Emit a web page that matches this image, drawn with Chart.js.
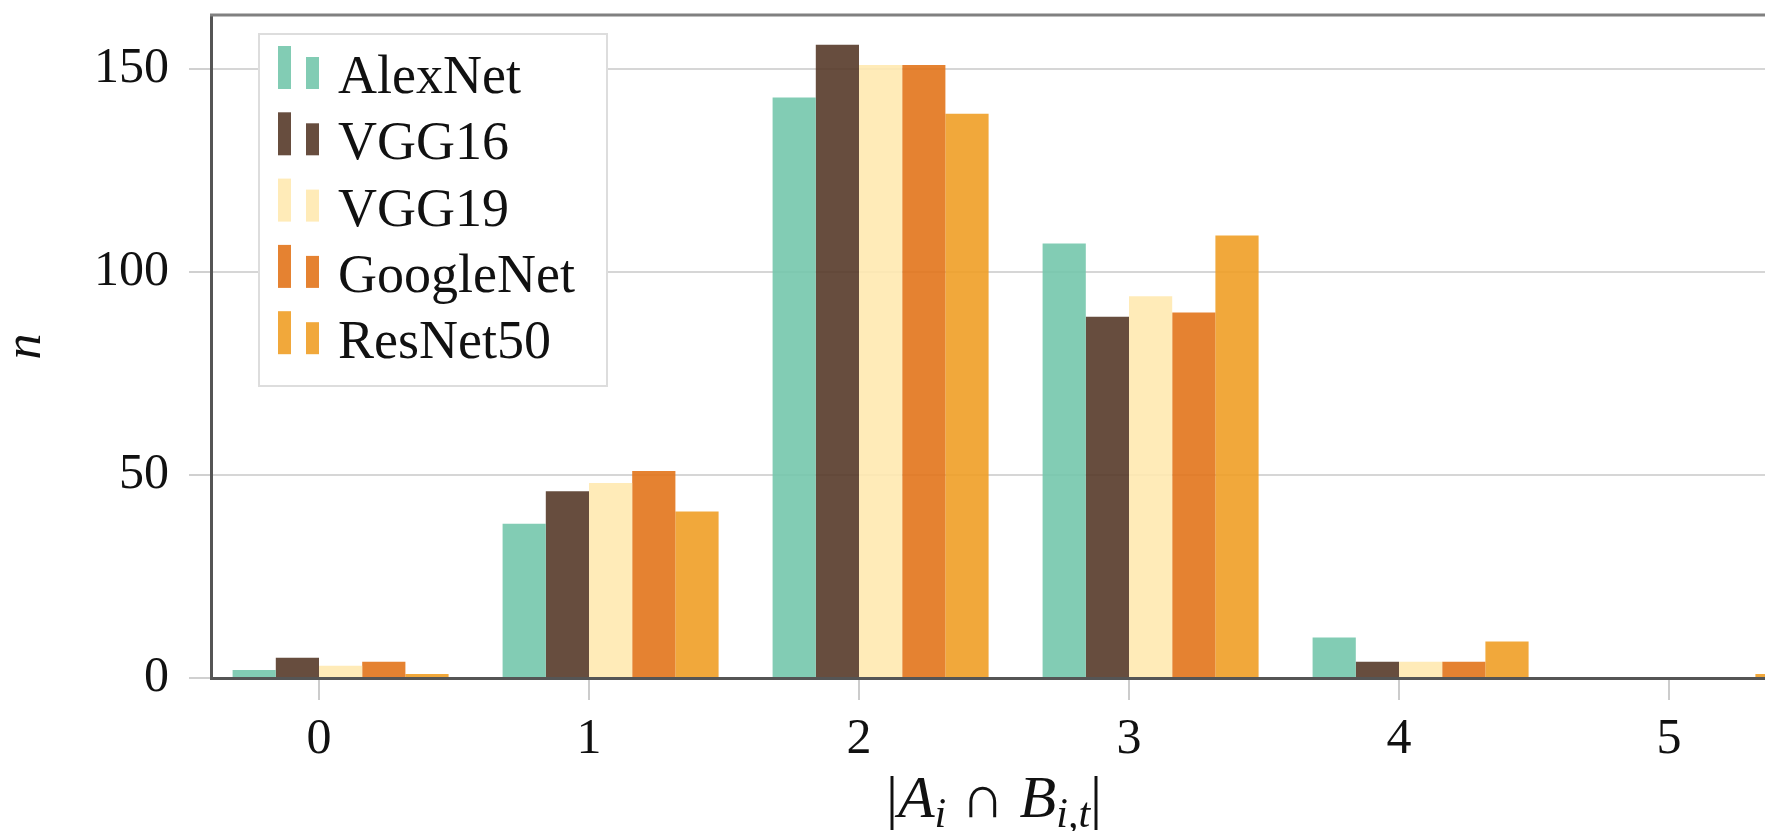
<html>
<head>
  <title>Intersection size per network</title>
  <script src="https://cdn.jsdelivr.net/npm/chart.js"></script>
  <style>
    body { margin: 0; overflow: hidden; background: #ffffff; }
  </style>
</head>
<body>
  <canvas id="myChart" width="1790" height="831"></canvas>

  <script>
    // Values
    var categories = [0, 1, 2, 3, 4, 5];
    var alexnet = [2, 38, 143, 107, 10, 0];
    var vgg16 = [5, 46, 156, 89, 4, 0];
    var vgg19 = [3, 48, 151, 94, 4, 0];
    var googlenet = [4, 51, 151, 90, 4, 0];
    var resnet50 = [1, 41, 139, 109, 9, 1];
    var yTicks = [0, 50, 100, 150];

    var seriesNames = ["AlexNet", "VGG16", "VGG19", "GoogleNet", "ResNet50"];
    var seriesValues = [alexnet, vgg16, vgg19, googlenet, resnet50];
    var seriesColors = [
      "rgba(116, 199, 172, 0.9)",
      "rgba(87, 58, 41, 0.9)",
      "rgba(255, 233, 176, 0.9)",
      "rgba(226, 116, 27, 0.9)",
      "rgba(240, 159, 38, 0.9)"
    ];

    var serif = "'Liberation Serif', 'DejaVu Serif', serif";

    // x range of the visible axis; the bar groups sit half a bar to the right of each tick
    var xMin = -0.4, xMax = 5.4, groupShift = 0.08;

    function categoryTicks(axis) {
      axis.ticks = categories.map(function (v) { return { value: v }; });
    }

    // legend drawn inside the plot, in a framed box
    var boxLegend = {
      id: "boxLegend",
      afterDraw: function (chart) {
        var ctx = chart.ctx;
        var a = chart.chartArea;
        var left = a.left + 48, top = a.top + 19;
        ctx.save();
        ctx.fillStyle = "#ffffff";
        ctx.fillRect(left, top, 348, 352);
        ctx.strokeStyle = "#dddddd";
        ctx.lineWidth = 2;
        ctx.strokeRect(left, top, 348, 352);
        ctx.font = "54px " + serif;
        ctx.textBaseline = "alphabetic";
        chart.data.datasets.forEach(function (ds, i) {
          var base = top + 59 + i * 66.3;
          ctx.fillStyle = ds.backgroundColor;
          ctx.fillRect(left + 19, base - 47, 13, 43);
          ctx.fillRect(left + 47, base - 36, 13, 32);
          ctx.fillStyle = "#111111";
          ctx.fillText(ds.label, left + 79, base);
        });
        ctx.restore();
      }
    };

    // top frame line and the x axis title with subscripts
    var frameAndTitle = {
      id: "frameAndTitle",
      afterDraw: function (chart) {
        var ctx = chart.ctx;
        var a = chart.chartArea;
        ctx.save();
        ctx.strokeStyle = "#808080";
        ctx.lineWidth = 3;
        ctx.beginPath();
        ctx.moveTo(a.left - 1, a.top);
        ctx.lineTo(a.right, a.top);
        ctx.stroke();

        var big = "60px " + serif, bigIt = "italic 60px " + serif;
        var sub = "italic 42px " + serif;
        var parts = [
          { t: "|", f: big, dy: 0 },
          { t: "A", f: bigIt, dy: 0 },
          { t: "i", f: sub, dy: 10 },
          { t: " \u2229 ", f: big, dy: 0 },
          { t: "B", f: bigIt, dy: 0 },
          { t: "i,t", f: sub, dy: 10 },
          { t: "|", f: big, dy: 0 }
        ];
        var total = 0;
        parts.forEach(function (p) {
          ctx.font = p.f;
          p.w = ctx.measureText(p.t).width;
          total += p.w;
        });
        var x = (a.left + a.right) / 2 - total / 2;
        var baseline = 817;
        ctx.fillStyle = "#111111";
        ctx.textBaseline = "alphabetic";
        parts.forEach(function (p) {
          ctx.font = p.f;
          ctx.fillText(p.t, x, baseline + p.dy);
          x += p.w;
        });
        ctx.restore();
      }
    };

    function drawChart() {
      var ctx = document.getElementById("myChart").getContext("2d");

      var datasets = seriesNames.map(function (name, s) {
        return {
          label: name,
          data: categories.map(function (c, i) {
            return { x: c, y: seriesValues[s][i] };
          }),
          backgroundColor: seriesColors[s],
          borderWidth: 0,
          xAxisID: "xb",
          categoryPercentage: 0.8,
          barPercentage: 1.0
        };
      });

      new Chart(ctx, {
        type: "bar",
        data: { datasets: datasets },
        plugins: [boxLegend, frameAndTitle],
        options: {
          responsive: false,
          animation: false,
          layout: { padding: { left: 0, top: 15, right: 13, bottom: 0 } },
          plugins: {
            legend: { display: false },
            tooltip: { enabled: false }
          },
          scales: {
            xb: {
              type: "linear",
              position: "bottom",
              display: false,
              offset: false,
              grid: { offset: false },
              min: xMin - groupShift,
              max: xMax - groupShift,
              afterBuildTicks: categoryTicks
            },
            x: {
              type: "linear",
              position: "bottom",
              offset: false,
              min: xMin,
              max: xMax,
              afterBuildTicks: categoryTicks,
              afterFit: function (axis) {
                axis.height = 153;
                axis.paddingLeft = 0;
                axis.paddingRight = 0;
              },
              grid: {
                offset: false,
                drawOnChartArea: false,
                drawTicks: true,
                tickLength: 22,
                tickColor: "#cccccc",
                lineWidth: 2
              },
              border: { display: true, color: "#555555", width: 3 },
              ticks: {
                padding: 10,
                color: "#111111",
                font: { family: serif, size: 50 },
                callback: function (v) { return String(v); }
              }
            },
            y: {
              min: 0,
              max: 163.3,
              afterBuildTicks: function (axis) {
                axis.ticks = yTicks.map(function (v) { return { value: v }; });
              },
              afterFit: function (axis) {
                axis.width = 211;
                axis.paddingTop = 0;
                axis.paddingBottom = 0;
              },
              grid: {
                color: "#d6d6d6",
                lineWidth: 2,
                tickLength: 22,
                tickColor: "#d0d0d0"
              },
              border: { display: true, color: "#555555", width: 3 },
              ticks: {
                padding: 20,
                color: "#111111",
                font: { family: serif, size: 50 }
              },
              title: {
                display: true,
                text: "n",
                color: "#111111",
                padding: 0,
                font: { family: serif, size: 52, style: "italic", lineHeight: 1 }
              }
            }
          }
        }
      });
    }

    drawChart();
  </script>
</body>
</html>
